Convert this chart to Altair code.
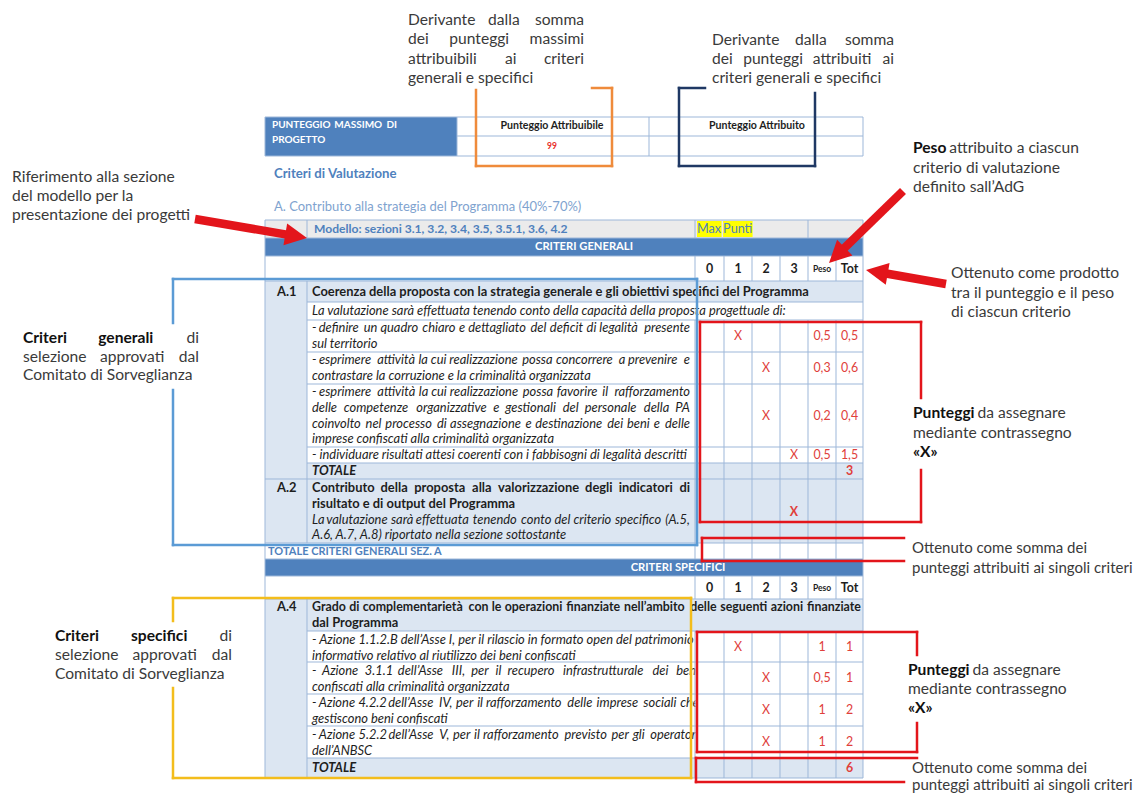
import math
import altair as alt
import pandas as pd

# ------------------------------------------------------------------ DATA
MAX_PUNTEGGIO = "99"
SCORE_HEADERS = ["0", "1", "2", "3", "Peso", "Tot"]

A1_SCORE = [1, 2, 2, 3]
A1_PESO = ["0,5", "0,3", "0,2", "0,5"]
A1_TOT = ["0,5", "0,6", "0,4", "1,5"]
A1_TOTALE = "3"
A2_SCORE = 3
A4_SCORE = [1, 2, 2, 2]
A4_PESO = ["1", "0,5", "1", "1"]
A4_TOT = ["1", "1", "2", "2"]
A4_TOTALE = "6"

HEAD_LEFT = ["PUNTEGGIO MASSIMO DI", "PROGETTO"]
HEAD_COLS = ["Punteggio Attribuibile", "Punteggio Attribuito"]
SECTION_TITLE = "Criteri di Valutazione"
SECTION_SUB = "A. Contributo  alla strategia del Programma (40%-70%)"
MODELLO = "Modello: sezioni 3.1, 3.2, 3.4, 3.5,  3.5.1, 3.6, 4.2"
MAX_PUNTI = ["Max", "Punti"]
BAR_LABELS = ["CRITERI GENERALI", "CRITERI SPECIFICI"]
SEZ_A = "TOTALE CRITERI GENERALI SEZ. A"
TOTALE = "TOTALE"

A1_CODE = "A.1"
A1_TITLE = "Coerenza della proposta con la strategia generale e gli obiettivi specifici del Programma"
A1_INTRO = "La valutazione sarà effettuata tenendo conto della capacità della proposta progettuale di:"
A1_ITEMS = [
    ["- definire un quadro chiaro e dettagliato del deficit di legalità presente",
     "sul territorio"],
    ["- esprimere attività la cui realizzazione possa concorrere a prevenire e",
     "contrastare la corruzione e la criminalità organizzata"],
    ["- esprimere attività la cui realizzazione possa favorire il rafforzamento",
     "delle competenze organizzative e gestionali del personale della PA",
     "coinvolto nel processo di assegnazione e destinazione dei beni e delle",
     "imprese confiscati alla criminalità organizzata"],
    ["- individuare risultati attesi coerenti con i fabbisogni di legalità descritti"],
]
A2_CODE = "A.2"
A2_BOLD = ["Contributo della proposta alla valorizzazione degli indicatori di",
           "risultato e di output del Programma"]
A2_ITALIC = ["La valutazione sarà effettuata tenendo conto del criterio specifico (A.5,",
             "A.6, A.7, A.8) riportato nella sezione sottostante"]
A4_CODE = "A.4"
A4_TITLE = ["Grado di complementarietà con le operazioni finanziate nell’ambito delle seguenti azioni finanziate",
            "dal Programma"]
A4_ITEMS = [
    ["- Azione 1.1.2.B dell’Asse I, per il rilascio in formato open del patrimonio",
     "informativo relativo al riutilizzo dei beni confiscati"],
    ["- Azione 3.1.1 dell’Asse III, per il recupero infrastrutturale dei beni",
     "confiscati alla criminalità organizzata"],
    ["- Azione 4.2.2 dell’Asse IV, per il rafforzamento delle imprese sociali che",
     "gestiscono beni confiscati"],
    ["- Azione 5.2.2 dell’Asse V, per il rafforzamento previsto per gli operatori",
     "dell’ANBSC"],
]

ANN_TOP_LEFT = ["Derivante dalla somma", "dei punteggi massimi", "attribuibili ai criteri",
                "generali e specifici"]
ANN_TOP_RIGHT = ["Derivante dalla somma", "dei punteggi attribuiti ai", "criteri generali e specifici"]
ANN_RIF = ["Riferimento alla sezione", "del modello per la", "presentazione dei progetti"]
ANN_GEN = ["*Criteri* *generali* di", "selezione approvati dal", "Comitato di Sorveglianza"]
ANN_SPEC = ["*Criteri* *specifici* di", "selezione approvati dal", "Comitato di Sorveglianza"]
ANN_PESO = ["*Peso* attribuito a ciascun", "criterio di valutazione", "definito sall’AdG"]
ANN_PRODOTTO = ["Ottenuto come prodotto", "tra il punteggio e il peso", "di ciascun criterio"]
ANN_PUNTEGGI = ["*Punteggi* da assegnare", "mediante contrassegno", "*«X»*"]
ANN_SOMMA = ["Ottenuto come somma dei", "punteggi attribuiti ai singoli criteri"]

# ------------------------------------------------------------------ STYLE / LAYOUT
FONT = "Lato"
INK = "#1E1E1E"
HEAD_BLUE = "#4F81BD"
CELL_BLUE = "#DCE6F2"
GREY_ROW = "#EBEBEB"
LINE = "#9DB7D9"
SCORE_RED = "#E0403B"
RED = "#E3151B"
ORANGE = "#EF8B3B"
NAVY = "#1F3864"
BLUE_BOX = "#5B9BD5"
YELLOW_BOX = "#F3BD1C"
HILITE = "#FFFF00"
ANN_INK = "#3A3A3A"
ANN_BOLD = "#111111"

FS_ANN = 15.6
FS_T = 12.9
LH = 15.8

TL, TR = 265, 863
COL_A = 307
TXT_L = 312
TXT_R = 690
SC = [695, 724, 752, 780, 808, 836, 863]

# approximate advance widths (em) used to space justified words
CAL = dict(a=.479, b=.525, c=.423, d=.525, e=.498, f=.305, g=.471, h=.525, i=.229, j=.239,
           k=.455, l=.229, m=.799, n=.525, o=.527, p=.525, q=.525, r=.349, s=.391, t=.335,
           u=.525, v=.452, w=.715, x=.433, y=.453, z=.395,
           A=.579, B=.544, C=.533, D=.615, E=.488, F=.459, G=.631, H=.623, I=.252, J=.319,
           K=.520, L=.420, M=.855, N=.646, O=.662, P=.517, Q=.673, R=.543, S=.459, T=.487,
           U=.642, V=.567, W=.890, X=.519, Y=.487, Z=.468)
CAL.update({ch: .507 for ch in "0123456789"})
CAL.update({".": .252, ",": .250, ":": .268, "-": .306, "’": .250, "'": .221, "(": .303,
            ")": .303, "%": .715, "«": .498, "»": .498, "à": .479, "è": .498, "é": .498,
            "ì": .229, "ò": .527, "ù": .525})
KF = 1.06
SP = 0.2


def text_w(s, fs, bold=False, italic=False):
    w = 0.0
    for ch in s:
        if ch == " ":
            w += SP
        else:
            w += CAL.get(ch, 0.5) * KF * (1.04 if bold else 1.0) * (0.98 if italic else 1.0)
    return w * fs


texts = []


def rec(x, y, t, fs, color, bold=False, italic=False, align="left", stage=2):
    texts.append(dict(x=x, y=y, text=t, fs=fs, color=color, bold=bool(bold),
                      italic=bool(italic), align=align, stage=stage))


def add_line(line, x, y, fs, color, bold=False, italic=False, right=None, stage=2,
             bold_color=None, min_gap=1.0):
    words = []
    for w in line.split(" "):
        if not w:
            continue
        b = bold
        if len(w) > 2 and w.startswith("*") and w.endswith("*"):
            w, b = w[1:-1], True
        words.append((w, b))
    col = lambda b: (bold_color or color) if (b and not bold) else color
    if right is not None and len(words) > 1:
        widths = [text_w(w, fs, b, italic) for w, b in words]
        gap = (right - x - sum(widths)) / (len(words) - 1)
        if gap >= min_gap * SP * fs:
            cx = x
            for i, ((w, b), wd) in enumerate(zip(words, widths)):
                if i == len(words) - 1:
                    rec(right, y, w, fs, col(b), b, italic, "right", stage)
                else:
                    rec(cx, y, w, fs, col(b), b, italic, "left", stage)
                cx += wd + gap
            return
    runs = []
    for w, b in words:
        if runs and runs[-1][1] == b:
            runs[-1][0] += " " + w
        else:
            runs.append([w, b])
    cx = x
    for t, b in runs:
        rec(cx, y, t, fs, col(b), b, italic, "left", stage)
        cx += text_w(t + " ", fs, b, italic)


def add_block(lines, x, y0, dy, fs, color, right=None, n_just=0, bold_color=None, stage=2):
    for i, ln in enumerate(lines):
        add_line(ln, x, y0 + i * dy, fs, color, right=right if i < n_just else None,
                 stage=stage, bold_color=bold_color)


rects = []   # fills
covers = []  # white cells drawn over overflowing text
grid = []
over = []


def rect(lst, x1, x2, y1, y2, c):
    lst.append(dict(x=x1, x2=x2, y=y1, y2=y2, color=c))


def seg(lst, x1, y1, x2, y2, c, w):
    lst.append(dict(x=x1, y=y1, x2=x2, y2=y2, color=c, w=w))


def cc(i):
    return (SC[i] + SC[i + 1]) / 2

# ---------------- header table
rect(rects, 265, 457, 117, 156, HEAD_BLUE)
for y in (117, 156):
    seg(grid, 265, y, 863, y, LINE, 1)
seg(grid, 457, 136, 863, 136, LINE, 1)
for x in (265, 457, 649, 863):
    seg(grid, x, 117, x, 156, LINE, 1)
add_line(HEAD_LEFT[0], 272, 125, 10, "#FFFFFF", bold=True, right=397, stage=1)
add_line(HEAD_LEFT[1], 272, 140, 10, "#FFFFFF", bold=True, stage=1)
rec(552, 126, HEAD_COLS[0], 10.6, INK, True, False, "center", 1)
rec(552, 146, MAX_PUNTEGGIO, 8.5, "#E8302A", True, False, "center", 1)
rec(757, 126, HEAD_COLS[1], 10.6, INK, True, False, "center", 1)

rec(274, 174, SECTION_TITLE, 13.2, HEAD_BLUE, True, False, "left", 1)
rec(274, 207, SECTION_SUB, 13, "#7FA3CF", False, False, "left", 1)

# ---------------- table fills
rect(rects, TL, TR, 220, 238, GREY_ROW)
FS_MAX = 12.6
mx = 697
rect(rects, mx, mx + text_w(MAX_PUNTI[0], FS_MAX) + 1, 221, 237, HILITE)
px = mx + text_w(MAX_PUNTI[0] + " ", FS_MAX)
rect(rects, px, px + text_w(MAX_PUNTI[1], FS_MAX) + 1, 221, 237, HILITE)
rect(rects, TL, TR, 238, 256, HEAD_BLUE)
rect(rects, TL, COL_A, 281, 479, CELL_BLUE)
rect(rects, COL_A, TR, 281, 302, CELL_BLUE)
rect(rects, COL_A, TR, 463, 479, CELL_BLUE)
rect(rects, TL, TR, 479, 543, CELL_BLUE)
rect(rects, TL, TR, 559, 576, HEAD_BLUE)
rect(rects, TL, COL_A, 599, 778, CELL_BLUE)
rect(rects, COL_A, TR, 599, 631, CELL_BLUE)
rect(rects, COL_A, TR, 758, 778, CELL_BLUE)
rect(covers, SC[0] + 0.5, TR, 631, 758, "#FFFFFF")

# ---------------- grid
for y in (220, 238, 256, 281, 479, 543, 559, 576, 599, 778):
    seg(grid, TL, y, TR, y, LINE, 1)
for y in (302, 320, 352, 384, 447, 463, 631, 662, 694, 726, 758):
    seg(grid, COL_A, y, TR, y, LINE, 1)
for x in (TL, TR):
    seg(grid, x, 220, x, 778, LINE, 1)
for (a, b) in ((220, 238), (281, 543), (599, 778)):
    seg(grid, COL_A, a, COL_A, b, LINE, 1)
for x in (695, 808):
    seg(grid, x, 220, x, 238, LINE, 1)
for x in SC[:-1]:
    for (a, b) in ((256, 281), (320, 559), (576, 599), (631, 778)):
        seg(grid, x, a, x, b, LINE, 1)

# ---------------- table text
rec(314, 229, MODELLO, 12.1, HEAD_BLUE, True, False, "left", 1)
rec(mx, 229, MAX_PUNTI[0], FS_MAX, HEAD_BLUE, False, False, "left", 1)
rec(px, 229, MAX_PUNTI[1], FS_MAX, HEAD_BLUE, False, False, "left", 1)
rec(584, 247, BAR_LABELS[0], 11.2, "#FFFFFF", True, False, "center", 1)
rec(678, 568, BAR_LABELS[1], 11.2, "#FFFFFF", True, False, "center", 1)

for yh in (269, 588):
    for i, h in enumerate(SCORE_HEADERS):
        rec(cc(i), yh, h, 8.5 if h == "Peso" else 12.4, INK, True, False, "center", 2)

# A.1
rec(277, 292, A1_CODE, FS_T, INK, True, False, "left", 1)
add_line(A1_TITLE, TXT_L, 292, FS_T, INK, bold=True, stage=1)
add_line(A1_INTRO, TXT_L, 311, FS_T, INK, italic=True, stage=1)
A1_ROWS = [320, 352, 384, 447, 463]
for r, lines in enumerate(A1_ITEMS):
    top = A1_ROWS[r]
    for i, ln in enumerate(lines):
        add_line(ln, TXT_L, top + 8 + i * LH, FS_T, INK, italic=True,
                 right=TXT_R if i < len(lines) - 1 else None, stage=1, min_gap=0.4)
    ym = (A1_ROWS[r] + A1_ROWS[r + 1]) / 2
    rec(cc(A1_SCORE[r]), ym, "X", 12.4, SCORE_RED, False, False, "center", 2)
    rec(cc(4), ym, A1_PESO[r], 12.4, SCORE_RED, False, False, "center", 2)
    rec(cc(5), ym, A1_TOT[r], 12.4, SCORE_RED, False, False, "center", 2)
add_line(TOTALE, TXT_L, 471, FS_T, INK, bold=True, italic=True, stage=1)
rec(cc(5), 471, A1_TOTALE, 12.4, SCORE_RED, True, False, "center", 2)

# A.2
rec(277, 488, A2_CODE, FS_T, INK, True, False, "left", 1)
add_line(A2_BOLD[0], TXT_L, 488, FS_T, INK, bold=True, right=TXT_R, stage=1, min_gap=0.4)
add_line(A2_BOLD[1], TXT_L, 488 + LH, FS_T, INK, bold=True, stage=1)
add_line(A2_ITALIC[0], TXT_L, 488 + 2 * LH, FS_T, INK, italic=True, right=TXT_R, stage=1,
         min_gap=0.4)
add_line(A2_ITALIC[1], TXT_L, 488 + 3 * LH, FS_T, INK, italic=True, stage=1)
rec(cc(A2_SCORE), 512, "X", 12.4, SCORE_RED, True, False, "center", 2)

rec(268, 552, SEZ_A, 11, HEAD_BLUE, True, False, "left", 1)

# A.4
rec(277, 607, A4_CODE, FS_T, INK, True, False, "left", 1)
add_line(A4_TITLE[0], TXT_L, 607, 12.4, INK, bold=True, right=861, stage=1, min_gap=0.3)
add_line(A4_TITLE[1], TXT_L, 607 + LH, FS_T, INK, bold=True, stage=1)
A4_ROWS = [631, 662, 694, 726, 758]
for r, lines in enumerate(A4_ITEMS):
    top = A4_ROWS[r]
    for i, ln in enumerate(lines):
        add_line(ln, TXT_L, top + 9 + i * LH, FS_T, INK, italic=True,
                 right=699 if i < len(lines) - 1 else None, stage=1)
    ym = (A4_ROWS[r] + A4_ROWS[r + 1]) / 2
    rec(cc(A4_SCORE[r]), ym, "X", 12.4, SCORE_RED, False, False, "center", 2)
    rec(cc(4), ym, A4_PESO[r], 12.4, SCORE_RED, False, False, "center", 2)
    rec(cc(5), ym, A4_TOT[r], 12.4, SCORE_RED, False, False, "center", 2)
add_line(TOTALE, TXT_L, 768, FS_T, INK, bold=True, italic=True, stage=1)
rec(cc(5), 768, A4_TOTALE, 12.4, SCORE_RED, True, False, "center", 2)

# ---------------- annotation overlays
W = 2.5
for s in ((476, 90, 476, 166), (476, 166, 612, 166), (612, 88, 612, 166), (592, 88, 612, 88)):
    seg(over, *s, ORANGE, W)
for s in ((679, 88, 705, 88), (679, 88, 679, 166), (679, 166, 815, 166), (815, 93, 815, 166)):
    seg(over, *s, NAVY, W)
for s in ((173, 279, 697, 279), (697, 279, 697, 545), (173, 545, 697, 545),
          (173, 279, 173, 323), (173, 390, 173, 545)):
    seg(over, *s, BLUE_BOX, W)
for s in ((700, 322, 921, 322), (700, 322, 700, 522), (700, 522, 921, 522),
          (921, 322, 921, 398), (921, 470, 921, 522)):
    seg(over, *s, RED, W)
for s in ((702, 538, 904, 538), (702, 538, 702, 561), (702, 561, 904, 561)):
    seg(over, *s, RED, W)
for s in ((173, 598, 691, 598), (691, 598, 691, 778), (173, 778, 691, 778),
          (173, 598, 173, 621), (173, 688, 173, 778)):
    seg(over, *s, YELLOW_BOX, W)
for s in ((697, 632, 917, 632), (697, 632, 697, 752), (697, 752, 917, 752),
          (917, 632, 917, 655), (917, 723, 917, 752)):
    seg(over, *s, RED, W)
for s in ((696, 758, 917, 758), (696, 758, 696, 782), (696, 782, 904, 782)):
    seg(over, *s, RED, W)

# ---------------- annotation text
FS_SOMMA = 15.0
add_block(ANN_TOP_LEFT, 408, 20, 19.3, FS_ANN, ANN_INK, right=584, n_just=3)
add_block(ANN_TOP_RIGHT, 712, 40, 19, FS_ANN, ANN_INK, right=894, n_just=2)
add_block(ANN_RIF, 12, 177, 19, FS_ANN, ANN_INK)
add_block(ANN_GEN, 23, 338, 18.6, FS_ANN, ANN_INK, right=199, n_just=2, bold_color=ANN_BOLD)
add_block(ANN_SPEC, 55, 636, 19, FS_ANN, ANN_INK, right=232, n_just=2, bold_color=ANN_BOLD)
add_block(ANN_PESO, 913, 148, 19.5, FS_ANN, ANN_INK, bold_color=ANN_BOLD)
add_block(ANN_PRODOTTO, 951, 273, 19.5, FS_ANN, ANN_INK)
add_block(ANN_PUNTEGGI, 913, 413, 19.5, FS_ANN, ANN_INK, bold_color=ANN_BOLD)
add_block(ANN_SOMMA, 912, 548, 19.5, FS_SOMMA, ANN_INK)
add_block(ANN_PUNTEGGI, 908, 670, 19, FS_ANN, ANN_INK, bold_color=ANN_BOLD)
add_block(ANN_SOMMA, 912, 768, 17, FS_SOMMA, ANN_INK)

# ---------------- arrows
ARROWS = [((903, 191), (829, 263)), ((946, 284), (866, 270)), ((195, 219), (307, 238))]
HEAD = 22.0
shafts, heads = [], []
for (tx, ty), (hx, hy) in ARROWS:
    dx, dy = hx - tx, hy - ty
    L = math.hypot(dx, dy)
    ux, uy = dx / L, dy / L
    seg(shafts, tx, ty, hx - ux * (HEAD - 3), hy - uy * (HEAD - 3), RED, 8.5)
    heads.append(dict(x=hx - ux * HEAD / 2, y=hy - uy * HEAD / 2,
                      ang=math.degrees(math.atan2(dx, -dy)) % 360, sz=HEAD * HEAD))

# ------------------------------------------------------------------ CHART
PW, PH = 1127, 787
XS = alt.Scale(domain=[8, 8 + PW], nice=False, zero=False)
YS = alt.Scale(domain=[8, 8 + PH], nice=False, zero=False, reverse=True)
X = alt.X("x:Q", scale=XS, axis=None)
Y = alt.Y("y:Q", scale=YS, axis=None)


def rect_layer(lst):
    return alt.Chart(pd.DataFrame(lst)).mark_rect(strokeWidth=0).encode(
        x=X, x2="x2:Q", y=Y, y2="y2:Q", color=alt.Color("color:N", scale=None))


def rule_layer(lst, cap="butt"):
    return alt.Chart(pd.DataFrame(lst)).mark_rule(strokeCap=cap).encode(
        x=X, x2="x2:Q", y=Y, y2="y2:Q", color=alt.Color("color:N", scale=None),
        size=alt.Size("w:Q", scale=None))


def text_layers(stage):
    df = pd.DataFrame([t for t in texts if t["stage"] == stage])
    out = []
    for (b, it, al), g in df.groupby(["bold", "italic", "align"]):
        out.append(alt.Chart(g.reset_index(drop=True)).mark_text(
            font=FONT, fontWeight="bold" if b else "normal",
            fontStyle="italic" if it else "normal", align=al, baseline="middle").encode(
            x=X, y=Y, text="text:N", size=alt.Size("fs:Q", scale=None),
            color=alt.Color("color:N", scale=None)))
    return out


head_layer = alt.Chart(pd.DataFrame(heads)).mark_point(
    shape="M0,-1L1,1L-1,1Z", filled=True, opacity=1, strokeWidth=0).encode(
    x=X, y=Y, angle=alt.Angle("ang:Q", scale=None), size=alt.Size("sz:Q", scale=None),
    color=alt.value(RED))

layers = ([rect_layer(rects)] + text_layers(1) + [rect_layer(covers), rule_layer(grid),
          rule_layer(over, "square")] + text_layers(2) + [rule_layer(shafts), head_layer])

chart = alt.layer(*layers).properties(
    width=PW, height=PH, padding=0, autosize=alt.AutoSizeParams(type="none"),
    background="#FFFFFF").configure_view(stroke=None)

chart.save("out.html", embed_options={"renderer": "svg", "actions": False})
